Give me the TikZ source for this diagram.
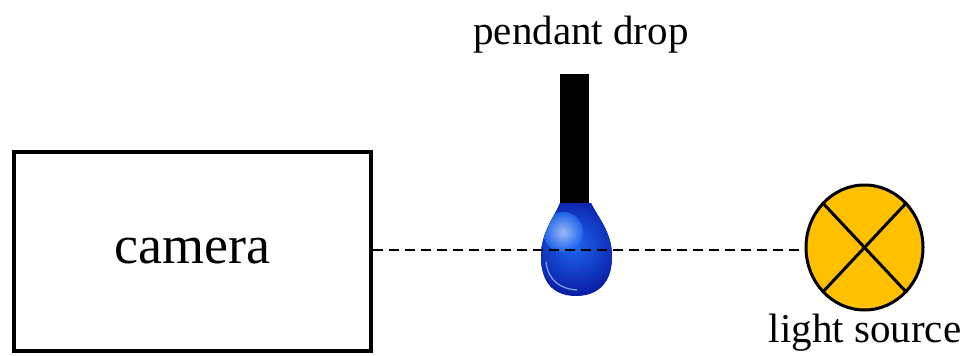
\documentclass[tikz,border=0pt]{standalone}
\usepackage{fontspec}
\setmainfont{Liberation Serif}
\usetikzlibrary{shapes.geometric}
\begin{document}
\begin{tikzpicture}[x=1pt,y=-1pt,
  label text/.style={font=\fontsize{41}{45}\selectfont, inner sep=0},
  boxstyle/.style={draw, line width=4, minimum width=357, minimum height=199, font=\fontsize{54}{58}\selectfont},
  lamp/.style={ellipse, draw, line width=3, fill=lampyellow, minimum width=117, minimum height=125, inner sep=0},
  beam/.style={line width=2, dash pattern=on 10pt off 6pt}
]
\definecolor{lampyellow}{HTML}{FFC000}
\definecolor{dropdark}{HTML}{0A1FA8}
\definecolor{dropmid}{HTML}{1E66EE}
\definecolor{droplight}{HTML}{A9C4FA}
\useasboundingbox (0,0) rectangle (967,356);

% camera body
\node[boxstyle] (camera) at (192.5,251.5) {camera};

% syringe needle
\node[fill=black, minimum width=29, minimum height=129, inner sep=0] (needle) at (574.5,138.5) {};
\node[label text, anchor=base] (droplabel) at (581,44) {pendant drop};

% hanging drop with a shaded body
\begin{scope}
  \clip (560,203) .. controls (555,216) and (541,232) .. (541,256)
        .. controls (541,284) and (555,296) .. (576,296)
        .. controls (597,296) and (612,284) .. (612,256)
        .. controls (612,232) and (597,216) .. (591,203) -- cycle;
  \fill[dropdark] (530,195) rectangle (625,300);
  \shade[inner color=dropmid, outer color=dropdark] (574,245) circle[radius=48];
  \shade[inner color=droplight, outer color=dropmid, opacity=0.9] (563,232) circle[radius=20];
\end{scope}
\draw[droplight, line width=1.2, opacity=0.8] (546,262) .. controls (548,280) and (560,289) .. (577,290);
\coordinate (drop) at (576,250);

% light source
\node[lamp] (light) at (864.5,247.5) {};
\draw[line width=3] (light.north west) -- (light.south east);
\draw[line width=3] (light.north east) -- (light.south west);
\node[label text, anchor=base] (lightlabel) at (865,342) {light source};

% optical axis
\draw[beam] (camera.east |- drop) -- (drop) -- (light.west |- drop);
\end{tikzpicture}
\end{document}
